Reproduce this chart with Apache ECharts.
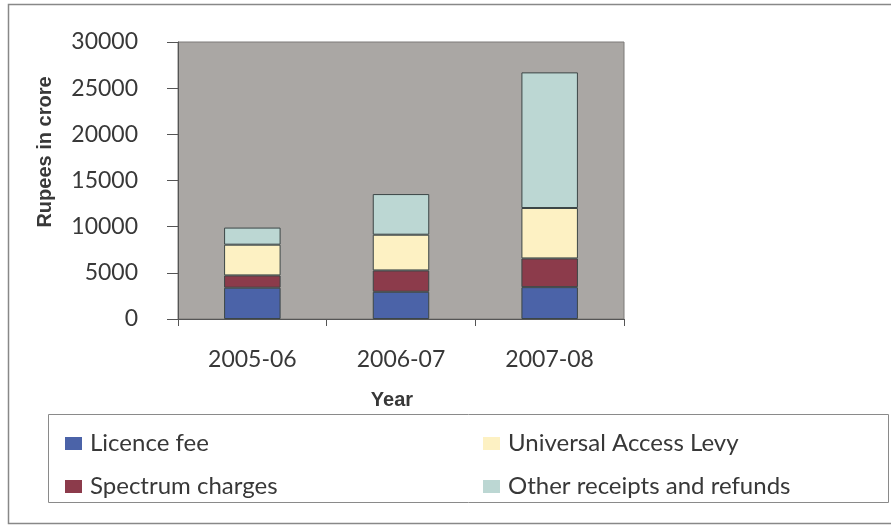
<!DOCTYPE html>
<html>
<head>
<meta charset="utf-8">
<title>Receipts by year</title>
<script src="https://cdn.jsdelivr.net/npm/echarts@6/dist/echarts.min.js"></script>
<style>
  html, body { margin: 0; padding: 0; background: #ffffff; }
  #chart { width: 891px; height: 525px; }
</style>
</head>
<body>
<div id="chart"></div>
<script>
// Receipts (Rupees in crore) per financial year, stacked by head
const years = ['2005-06', '2006-07', '2007-08'];
const licenceFee = [3390, 2950, 3450];
const spectrumCharges = [1330, 2310, 3110];
const universalAccessLevy = [3330, 3870, 5460];
const otherReceipts = [1850, 4400, 14690];
const yTicks = [0, 5000, 10000, 15000, 20000, 25000, 30000];

const seriesNames = ['Licence fee', 'Spectrum charges', 'Universal Access Levy', 'Other receipts and refunds'];
const seriesColors = ['#4b63a8', '#8c3b4b', '#fdf1c3', '#bcd7d3'];
const seriesData = [licenceFee, spectrumCharges, universalAccessLevy, otherReceipts];

const labelFont = 'Lato, "Open Sans", sans-serif';
const titleFont = '"Liberation Sans", Arial, sans-serif';
const textColor = '#383838';

const legendBase = {
  orient: 'vertical',
  top: 425,
  itemWidth: 17, itemHeight: 13, itemGap: 16,
  icon: 'rect',
  itemStyle: { borderWidth: 0 },
  textStyle: { fontFamily: labelFont, fontSize: 24, color: textColor, lineHeight: 27, padding: [0, 0, 0, 3] }
};

const chart = echarts.init(document.getElementById('chart'), null, { renderer: 'canvas' });

chart.setOption({
  animation: false,
  backgroundColor: '#ffffff',
  grid: {
    left: 178, right: 267, top: 42, bottom: 206,
    show: true,
    backgroundColor: '#aaa7a4',
    borderColor: '#7d7b79',
    borderWidth: 1
  },
  legend: [
    Object.assign({ data: ['Licence fee', 'Spectrum charges'], left: 60 }, legendBase),
    Object.assign({ data: ['Universal Access Levy', 'Other receipts and refunds'], left: 478 }, legendBase)
  ],
  xAxis: {
    type: 'category',
    data: years,
    axisLine: { lineStyle: { color: '#555', width: 1 } },
    axisTick: { show: true, length: 7, alignWithLabel: false, lineStyle: { color: '#555' } },
    axisLabel: { margin: 29, fontFamily: labelFont, fontSize: 23, color: textColor },
    splitLine: { show: false }
  },
  yAxis: {
    type: 'value',
    min: yTicks[0],
    max: yTicks[yTicks.length - 1],
    interval: yTicks[1] - yTicks[0],
    axisLine: { show: true, lineStyle: { color: '#555', width: 1 } },
    axisTick: { show: true, length: 11, lineStyle: { color: '#555' } },
    axisLabel: {
      margin: 40, fontFamily: labelFont, fontSize: 23, color: textColor,
      formatter: (v) => String(v)
    },
    splitLine: { show: false }
  },
  graphic: [
    {
      // outer chart frame
      type: 'rect', silent: true, z: -1,
      shape: { x: 8.5, y: 4.5, width: 900, height: 519 },
      style: { fill: 'none', stroke: '#888', lineWidth: 1.5 }
    },
    {
      // legend frame
      type: 'rect', silent: true,
      shape: { x: 48.5, y: 414.5, width: 840, height: 88 },
      style: { fill: 'none', stroke: '#8a8a8a', lineWidth: 1 }
    },
    {
      type: 'text', silent: true,
      x: 45, y: 152, rotation: Math.PI / 2,
      style: {
        text: 'Rupees in crore', fontFamily: titleFont, fontWeight: 'bold', fontSize: 20,
        fill: textColor, align: 'center', verticalAlign: 'middle'
      }
    },
    {
      type: 'text', silent: true,
      x: 392, y: 400,
      style: {
        text: 'Year', fontFamily: titleFont, fontWeight: 'bold', fontSize: 20,
        fill: textColor, align: 'center', verticalAlign: 'middle'
      }
    }
  ],
  series: seriesNames.map((name, i) => ({
    name: name,
    type: 'bar',
    stack: 'total',
    barWidth: '38%',
    data: seriesData[i],
    itemStyle: { color: seriesColors[i], borderColor: '#3c4646', borderWidth: 1 }
  }))
});
</script>
</body>
</html>
